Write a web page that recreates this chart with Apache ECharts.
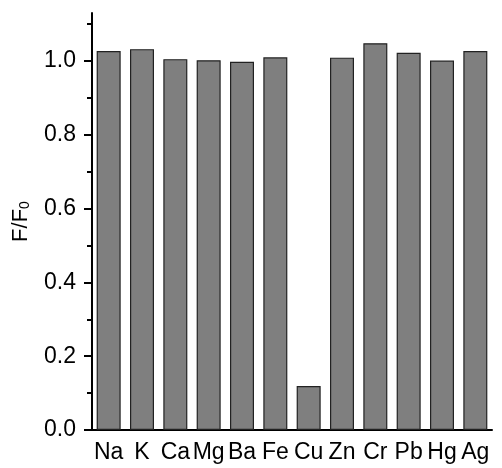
<!DOCTYPE html>
<html><head><meta charset="utf-8">
<script src="https://cdn.jsdelivr.net/npm/echarts@6/dist/echarts.min.js"></script>
<style>html,body{margin:0;padding:0;background:#fff}#c{width:502px;height:468px}</style>
</head><body><div id="c"></div>
<script>
var categories = ['Na','K','Ca','Mg','Ba','Fe','Cu','Zn','Cr','Pb','Hg','Ag'];
var values = [1.027, 1.032, 1.005, 1.002, 0.998, 1.010, 0.119, 1.009, 1.048, 1.022, 1.001, 1.027];
var yMajorTicks = [0, 0.2, 0.4, 0.6, 0.8, 1.0];
var yMinorTicks = [0.1, 0.3, 0.5, 0.7, 0.9, 1.1];
var font = 'Liberation Sans, Arial, sans-serif';
var chart = echarts.init(document.getElementById('c'));
chart.setOption({
  animation: false,
  grid: {left: 92, right: 10, top: 13, bottom: 38},
  xAxis: [{
    type: 'category', data: categories,
    axisLine: {lineStyle: {color: '#000', width: 2}},
    axisTick: {alignWithLabel: true, length: 8, lineStyle: {color: '#000', width: 2}},
    axisLabel: {interval: 0, color: '#000', fontSize: 23, fontFamily: font, margin: 11}
  }, {
    type: 'category', data: categories, position: 'bottom',
    axisLine: {show: false},
    axisTick: {length: 5, lineStyle: {color: '#000', width: 2}},
    axisLabel: {show: false}
  }],
  yAxis: [{
    type: 'value', min: 0, max: 1.13, interval: 0.2,
    name: '{a|F/F}{s|0}', nameLocation: 'middle', nameGap: 60, nameRotate: 90,
    nameTextStyle: {padding: [0, 0, 0, 0], rich: {
      a: {fontSize: 22, fontFamily: font, color: '#000'},
      s: {fontSize: 14, fontFamily: font, color: '#000', verticalAlign: 'bottom', padding: [9, 0, 0, 0]},
      p: {width: 12}
    }},
    splitLine: {show: false},
    axisLine: {show: true, lineStyle: {color: '#000', width: 2}},
    axisTick: {show: true, length: 8, customValues: yMajorTicks, lineStyle: {color: '#000', width: 2}},
    axisLabel: {customValues: yMajorTicks, color: '#000', fontSize: 23, fontFamily: font, margin: 16,
      formatter: function (v) { return v.toFixed(1); }}
  }, {
    type: 'value', min: 0, max: 1.13, position: 'left',
    splitLine: {show: false},
    axisLine: {show: false},
    axisTick: {show: true, length: 5, customValues: yMinorTicks, lineStyle: {color: '#000', width: 2}},
    axisLabel: {show: false}
  }],
  series: [{
    type: 'bar', data: values, barWidth: '72%',
    itemStyle: {color: '#7f7f7f', borderColor: '#222', borderWidth: 1.2}
  }]
});
</script></body></html>
